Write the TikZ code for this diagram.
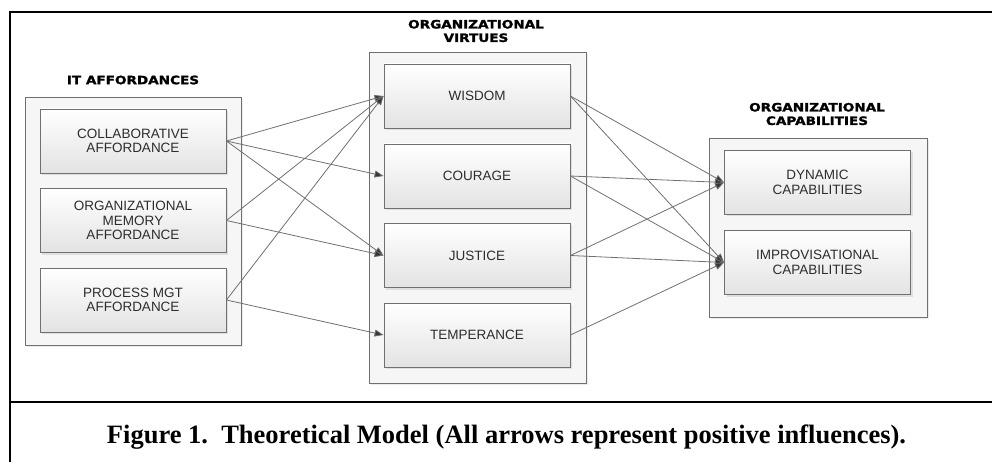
\documentclass[tikz,border=0pt]{standalone}
\usepackage{fontspec}
\setmainfont{Liberation Sans}
\newfontfamily\titlefont[FakeStretch=1.18,FakeBold=1.6]{DejaVu Sans}
\newfontfamily\capfont{Liberation Serif}
\usepackage{xcolor}
\usetikzlibrary{arrows.meta,shadows}
\definecolor{edgegray}{RGB}{112,112,112}
\definecolor{tipgray}{RGB}{55,55,55}
\definecolor{groupfill}{RGB}{246,246,246}
\definecolor{boxtext}{RGB}{45,45,45}

\tikzset{
  groupbox/.style={draw=edgegray,fill=groupfill,line width=0.9pt,
    drop shadow={shadow xshift=2pt,shadow yshift=-2pt,fill=black!12,opacity=0.6}},
  itembox/.style={draw=edgegray,line width=0.9pt,top color=white,bottom color=black!11,
    minimum width=186pt,minimum height=64pt,align=center,text=boxtext,
    font=\fontsize{13.5}{14.5}\selectfont,
    drop shadow={shadow xshift=2pt,shadow yshift=-2pt,fill=black!18,opacity=0.6}},
  grouptitle/.style={align=center,font=\titlefont\bfseries\fontsize{11.5}{13.5}\selectfont},
  link/.style={draw=edgegray,line width=0.8pt,-{Triangle[length=9pt,width=7pt,fill=tipgray]}}
}

\begin{document}
\begin{tikzpicture}[x=1pt,y=-1pt]
  \useasboundingbox (0,0) rectangle (992,462);
  % figure frame
  \draw[line width=2.2pt] (10,462) -- (10,12) -- (992,12);
  \draw[line width=2.2pt] (10,402) -- (992,402);

  % IT affordances
  \node[groupbox,minimum width=216pt,minimum height=248pt] (itgrp) at (133,221) {};
  \node[grouptitle] (ittitle) at (133,80) {IT AFFORDANCES};
  \node[itembox] (collab) at (133,141) {COLLABORATIVE\\AFFORDANCE};
  \node[itembox] (memory) at (133,220.5) {ORGANIZATIONAL\\MEMORY\\AFFORDANCE};
  \node[itembox] (process) at (133,300) {PROCESS MGT\\AFFORDANCE};

  % organizational virtues
  \node[groupbox,minimum width=217pt,minimum height=331pt] (virtgrp) at (477.5,217.5) {};
  \node[grouptitle] (virttitle) at (476,31) {ORGANIZATIONAL\\VIRTUES};
  \node[itembox] (wisdom) at (477,96) {WISDOM};
  \node[itembox] (courage) at (477,176) {COURAGE};
  \node[itembox] (justice) at (477,255.5) {JUSTICE};
  \node[itembox] (temperance) at (477,335) {TEMPERANCE};

  % organizational capabilities
  \node[groupbox,minimum width=218pt,minimum height=179pt] (capgrp) at (818,227.5) {};
  \node[grouptitle] (captitle) at (817,114) {ORGANIZATIONAL\\CAPABILITIES};
  \node[itembox] (dynamic) at (817.5,182.5) {DYNAMIC\\CAPABILITIES};
  \node[itembox] (improv) at (817.5,262.5) {IMPROVISATIONAL\\CAPABILITIES};

  % influences
  \foreach \src/\dst in {collab/wisdom,collab/courage,collab/justice,
      memory/wisdom,memory/justice,process/wisdom,process/temperance,
      wisdom/dynamic,wisdom/improv,courage/dynamic,courage/improv,
      justice/dynamic,justice/improv,temperance/improv}
    \draw[link] (\src.east) -- (\dst.west);

  % caption
  \node[anchor=base,font=\capfont\bfseries\fontsize{26.5}{30}\selectfont] (caption) at (506.5,443)
    {Figure 1.\ \ Theoretical Model (All arrows represent positive influences).};
\end{tikzpicture}
\end{document}
